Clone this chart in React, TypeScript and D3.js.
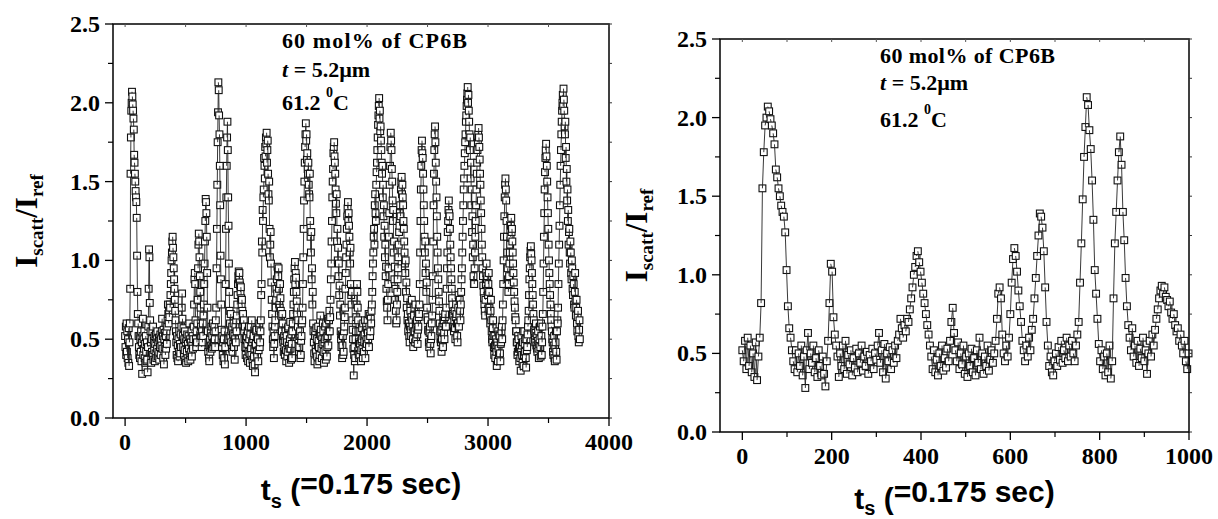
import React from 'react';
import * as d3 from 'd3';

// ---------- DATA ----------
// I_scatt/I_ref. First window: t_s = 0..999, every 3rd frame.
const ZOOM_START = 0;
const ZOOM_STEP = 3;
const zoomWindow: number[] = [
  // 0–39
  0.52, 0.45, 0.58, 0.40, 0.60, 0.42, 0.55, 0.38, 0.50, 0.35, 0.57, 0.33, 0.48, 0.60,
  // 42–111
  0.82, 1.55, 1.78, 1.95, 2.00, 2.07, 2.04, 1.99, 1.95, 1.90, 1.83, 1.67, 1.62, 1.55, 1.50, 1.44, 1.40, 1.37, 1.27, 1.03, 0.80, 0.66, 0.60, 0.52,
  // 114–183
  0.45, 0.40, 0.52, 0.38, 0.50, 0.42, 0.55, 0.36, 0.48, 0.28, 0.52, 0.63, 0.40, 0.50, 0.44, 0.55, 0.38, 0.47, 0.35, 0.52, 0.42, 0.36, 0.48, 0.37,
  // 186–213
  0.29, 0.45, 0.58, 0.82, 1.07, 1.02, 0.73, 0.62, 0.55, 0.48,
  // 216–348
  0.35, 0.50, 0.42, 0.55, 0.40, 0.58, 0.37, 0.49, 0.43, 0.52,
  0.36, 0.47, 0.41, 0.53, 0.38, 0.50, 0.44, 0.55, 0.39, 0.48,
  0.42, 0.51, 0.37, 0.49, 0.45, 0.53, 0.40, 0.50, 0.46, 0.55,
  0.63, 0.44, 0.52, 0.38, 0.56, 0.34, 0.50, 0.45, 0.54, 0.40,
  0.52, 0.44, 0.55, 0.47, 0.58,
  // 351–420
  0.62, 0.72, 0.66, 0.60, 0.68, 0.64, 0.72, 0.70, 0.78, 0.85, 0.92, 1.00, 1.05, 1.12, 1.15, 1.08, 1.02, 0.95, 0.88, 0.82, 0.75, 0.68, 0.62, 0.55,
  // 423–564
  0.48, 0.40, 0.52, 0.38, 0.46, 0.36, 0.50, 0.42, 0.55, 0.39,
  0.47, 0.41, 0.53, 0.45, 0.58, 0.70, 0.79, 0.63, 0.52, 0.45,
  0.57, 0.40, 0.50, 0.43, 0.55, 0.37, 0.48, 0.35, 0.50, 0.42,
  0.53, 0.38, 0.47, 0.36, 0.52, 0.44, 0.60, 0.40, 0.50, 0.37,
  0.48, 0.42, 0.55, 0.39, 0.46, 0.52, 0.44, 0.50,
  // 567–597
  0.58, 0.72, 0.88, 0.92, 0.85, 0.62, 0.50, 0.45, 0.55, 0.48, 0.60,
  // 600–648
  0.75, 0.95, 1.10, 1.17, 1.12, 1.02, 0.90, 0.80, 0.70, 0.58, 0.52, 0.45, 0.55, 0.48, 0.60, 0.52, 0.65,
  // 651–699
  0.72, 0.85, 0.98, 1.12, 1.25, 1.39, 1.37, 1.30, 1.15, 0.92, 0.70, 0.55, 0.42, 0.48, 0.38, 0.36, 0.45,
  // 702–750
  0.50, 0.42, 0.54, 0.46, 0.58, 0.44, 0.52, 0.47, 0.60, 0.45, 0.55, 0.48, 0.58, 0.50, 0.45, 0.55, 0.62,
  // 753–798
  0.70, 0.95, 1.20, 1.48, 1.75, 1.94, 2.13, 2.08, 1.92, 1.80, 1.60, 1.35, 1.03, 0.88, 0.72, 0.56,
  // 801–828
  0.45, 0.52, 0.40, 0.48, 0.36, 0.50, 0.38, 0.55, 0.34, 0.45,
  // 831–864
  0.85, 1.20, 1.40, 1.60, 1.78, 1.88, 1.70, 1.40, 1.22, 0.98, 0.80, 0.68,
  // 867–921
  0.60, 0.52, 0.66, 0.48, 0.55, 0.44, 0.58, 0.42, 0.53, 0.47, 0.60, 0.45, 0.52, 0.37, 0.50, 0.58, 0.48, 0.62, 0.55,
  // 924–999
  0.65, 0.72, 0.78, 0.85, 0.90, 0.93, 0.88, 0.92, 0.86, 0.84, 0.80, 0.83, 0.76, 0.72, 0.75, 0.68, 0.64, 0.66, 0.58, 0.62, 0.55, 0.50, 0.58, 0.45, 0.40, 0.50,
];

// Rest of the run: t_s = 1002..3759, every 3rd frame.
const LATER_START = 1002;
const LATER_STEP = 3;
const laterRun: number[] = [
  // 1002–1119
  0.45, 0.52, 0.38, 0.47, 0.55, 0.36, 0.42, 0.58, 0.50, 0.41, 0.35, 0.53, 0.58, 0.44, 0.40, 0.62, 0.48, 0.37, 0.33, 0.50,
  0.52, 0.39, 0.44, 0.34, 0.29, 0.46, 0.47, 0.55, 0.56, 0.42, 0.39, 0.51, 0.50, 0.36, 0.43, 0.57, 0.60, 0.45, 0.48, 0.55,
  // 1122–1221
  0.62, 0.78, 0.85, 1.12, 1.05, 1.32, 1.25, 1.40, 1.45, 1.65, 1.60, 1.52, 1.72, 1.66, 1.78, 1.74, 1.81, 1.62,
  1.70, 1.76, 1.55, 1.42, 1.38, 1.50, 1.20, 1.02, 1.10, 1.18, 0.98, 0.86, 0.75, 0.66, 0.58, 0.50,
  // 1224–1239
  0.45, 0.55, 0.38, 0.47, 0.52, 0.58,
  // 1242–1317
  0.62, 0.70, 0.75, 0.82, 0.88, 0.79, 0.96, 0.93, 0.90, 0.95, 0.82, 0.72, 0.70, 0.85, 0.76, 0.68, 0.65, 0.58, 0.55, 0.66,
  0.60, 0.50, 0.48, 0.42, 0.52, 0.45,
  // 1320–1389
  0.40, 0.49, 0.55, 0.43, 0.36, 0.52, 0.48, 0.39, 0.42, 0.57, 0.58, 0.46, 0.35, 0.44, 0.50, 0.61, 0.44, 0.37, 0.53, 0.47,
  0.38, 0.55, 0.60, 0.66,
  // 1392–1443
  0.72, 0.80, 0.88, 0.95, 0.99, 0.85, 0.92, 0.89, 0.80, 0.74, 0.66, 0.70, 0.58, 0.62, 0.50, 0.42, 0.45, 0.52,
  // 1446–1467
  0.55, 0.38, 0.40, 0.49, 0.52, 0.60, 0.62, 0.70,
  // 1470–1557
  0.85, 1.02, 1.20, 1.38, 1.50, 1.62, 1.72, 1.80, 1.87, 1.76, 1.80, 1.64, 1.68, 1.58, 1.55, 1.62, 1.48, 1.42, 1.40, 1.55,
  1.25, 1.15, 1.05, 1.18, 0.88, 0.95, 0.72, 0.80, 0.60, 0.55,
  // 1560–1695
  0.48, 0.41, 0.36, 0.52, 0.55, 0.44, 0.42, 0.57, 0.50, 0.39, 0.34, 0.46, 0.58, 0.49, 0.45, 0.36, 0.40, 0.53, 0.65, 0.56,
  0.52, 0.44, 0.38, 0.50, 0.47, 0.60, 0.55, 0.42, 0.35, 0.48, 0.50, 0.58, 0.43, 0.37, 0.60, 0.51, 0.39, 0.45, 0.52, 0.63,
  0.46, 0.55, 0.62, 0.68, 0.55, 0.64,
  // 1698–1785
  0.75, 0.88, 0.98, 1.12, 1.25, 1.40, 1.50, 1.58, 1.68, 1.72, 1.75, 1.66, 1.62, 1.55, 1.45, 1.36, 1.30, 1.42, 1.12, 1.20,
  1.00, 1.08, 0.90, 0.98, 0.78, 0.84, 0.65, 0.72, 0.55, 0.50,
  // 1788–1815
  0.45, 0.53, 0.38, 0.46, 0.52, 0.40, 0.42, 0.55, 0.58, 0.64,
  // 1818–1887
  0.70, 0.82, 0.92, 1.02, 1.10, 1.20, 1.28, 1.33, 1.37, 1.25, 1.30, 1.22, 1.15, 1.05, 0.98, 1.08, 0.85, 0.78, 0.72, 0.80,
  0.62, 0.56, 0.50, 0.44,
  // 1890–2037
  0.27, 0.40, 0.45, 0.36, 0.38, 0.50, 0.55, 0.64, 0.72, 0.85, 0.80, 0.70, 0.62, 0.55, 0.48, 0.38, 0.40, 0.47, 0.55, 0.43,
  0.36, 0.49, 0.50, 0.57, 0.44, 0.38, 0.60, 0.52, 0.42, 0.48, 0.53, 0.62, 0.38, 0.45, 0.58, 0.50, 0.47, 0.56, 0.62, 0.54,
  0.50, 0.66, 0.45, 0.58, 0.65, 0.52, 0.55, 0.63, 0.60, 0.68,
  // 2040–2175
  0.72, 0.80, 0.90, 0.98, 1.05, 1.15, 1.20, 1.10, 1.35, 1.42, 1.30, 1.25, 1.48, 1.56, 1.62, 1.70, 1.78, 1.86, 1.92, 1.98,
  2.03, 1.90, 1.95, 1.82, 1.85, 1.76, 1.70, 1.62, 1.55, 1.60, 1.40, 1.48, 1.28, 1.35, 1.15, 1.22, 1.02, 1.10, 0.90, 0.96,
  0.82, 0.74, 0.70, 0.62, 0.75, 0.85,
  // 2178–2241
  0.95, 1.15, 1.30, 1.48, 1.60, 1.72, 1.81, 1.76, 1.70, 1.58, 1.50, 1.38, 1.25, 1.32, 1.05, 1.12, 0.88, 0.96, 0.75, 0.82,
  0.68, 0.60,
  // 2244–2343
  0.62, 0.72, 0.80, 0.88, 0.95, 1.02, 1.10, 1.18, 1.22, 1.30, 1.35, 1.28, 1.45, 1.50, 1.53, 1.42, 1.48, 1.40, 1.35, 1.25,
  1.20, 1.12, 1.05, 0.98, 0.92, 1.00, 0.80, 0.86, 0.70, 0.76, 0.62, 0.66, 0.55, 0.60,
  // 2346–2433
  0.60, 0.52, 0.48, 0.58, 0.68, 0.56, 0.52, 0.64, 0.75, 0.62, 0.58, 0.50, 0.45, 0.55, 0.65, 0.70, 0.55, 0.48, 0.72, 0.60,
  0.50, 0.57, 0.62, 0.53, 0.47, 0.56, 0.58, 0.64, 0.66, 0.72,
  // 2436–2511
  0.85, 1.05, 1.25, 1.45, 1.60, 1.70, 1.76, 1.68, 1.65, 1.55, 1.45, 1.35, 1.25, 1.15, 1.05, 1.12, 0.92, 0.98, 0.80, 0.86,
  0.70, 0.64, 0.62, 0.56, 0.55, 0.48,
  // 2514–2541
  0.45, 0.54, 0.58, 0.47, 0.41, 0.50, 0.52, 0.60, 0.65, 0.75,
  // 2544–2607
  0.90, 1.12, 1.35, 1.55, 1.70, 1.80, 1.85, 1.75, 1.62, 1.50, 1.40, 1.28, 1.15, 1.05, 0.95, 0.88, 0.80, 0.74, 0.68, 0.60,
  0.55, 0.50,
  // 2610–2655
  0.48, 0.56, 0.42, 0.50, 0.58, 0.46, 0.45, 0.60, 0.62, 0.54, 0.50, 0.64, 0.66, 0.58, 0.58, 0.70,
  // 2658–2715
  0.82, 0.95, 1.05, 1.18, 1.25, 1.32, 1.38, 1.30, 1.28, 1.20, 1.10, 1.02, 0.95, 0.88, 0.82, 0.76, 0.72, 0.66, 0.65, 0.58,
  // 2718–2781
  0.55, 0.62, 0.68, 0.57, 0.50, 0.64, 0.72, 0.66, 0.60, 0.52, 0.48, 0.60, 0.70, 0.78, 0.58, 0.65, 0.75, 0.68, 0.62, 0.72,
  0.80, 0.88,
  // 2784–2883
  0.95, 1.05, 1.15, 1.25, 1.35, 1.45, 1.52, 1.60, 1.68, 1.75, 1.80, 1.88, 1.92, 1.98, 2.02, 2.06, 2.10, 2.00, 2.05, 1.95,
  1.88, 1.80, 1.70, 1.78, 1.52, 1.62, 1.35, 1.45, 1.18, 1.28, 1.02, 1.10, 0.90, 0.85,
  // 2886–2973
  0.85, 0.95, 1.05, 1.15, 1.25, 1.35, 1.45, 1.55, 1.62, 1.70, 1.75, 1.80, 1.84, 1.78, 1.72, 1.64, 1.55, 1.48, 1.38, 1.30,
  1.20, 1.10, 1.02, 0.95, 0.90, 0.84, 0.80, 0.76, 0.72, 0.68,
  // 2976–3057
  0.65, 0.75, 0.85, 0.92, 0.98, 0.88, 0.90, 0.82, 0.78, 0.85, 0.92, 0.80, 0.70, 0.65, 0.60, 0.68, 0.75, 0.62, 0.55, 0.50,
  0.48, 0.57, 0.62, 0.52, 0.45, 0.40, 0.52, 0.46,
  // 3060–3123
  0.38, 0.45, 0.50, 0.42, 0.33, 0.48, 0.46, 0.36, 0.55, 0.44, 0.40, 0.53, 0.52, 0.41, 0.36, 0.47, 0.48, 0.55, 0.58, 0.50,
  0.62, 0.72,
  // 3126–3183
  0.85, 1.00, 1.15, 1.28, 1.40, 1.48, 1.52, 1.45, 1.38, 1.25, 1.15, 1.05, 0.95, 0.88, 0.80, 0.85, 0.90, 0.98, 1.05, 1.10,
  // 3186–3255
  1.15, 1.22, 1.27, 1.18, 1.20, 1.12, 1.05, 0.98, 0.92, 0.86, 0.80, 0.74, 0.70, 0.64, 0.62, 0.55, 0.55, 0.48, 0.48, 0.40,
  0.42, 0.52, 0.50, 0.44,
  // 3258–3333
  0.36, 0.44, 0.45, 0.38, 0.30, 0.42, 0.52, 0.46, 0.40, 0.35, 0.48, 0.55, 0.33, 0.40, 0.55, 0.47, 0.42, 0.50, 0.38, 0.32,
  0.50, 0.43, 0.45, 0.53, 0.58, 0.62,
  // 3336–3405
  0.68, 0.78, 0.88, 0.95, 1.02, 1.06, 1.09, 1.04, 1.00, 0.92, 0.85, 0.78, 0.72, 0.66, 0.62, 0.56, 0.55, 0.50, 0.48, 0.54,
  0.60, 0.46, 0.52, 0.44,
  // 3408–3453
  0.42, 0.49, 0.55, 0.44, 0.38, 0.47, 0.50, 0.58, 0.45, 0.39, 0.60, 0.52, 0.40, 0.48, 0.58, 0.66,
  // 3456–3537
  0.80, 0.98, 1.15, 1.30, 1.45, 1.56, 1.65, 1.70, 1.74, 1.66, 1.60, 1.50, 1.40, 1.30, 1.20, 1.10, 1.00, 0.92, 0.85, 0.78,
  0.72, 0.66, 0.62, 0.58, 0.55, 0.50, 0.48, 0.42,
  // 3540–3579
  0.40, 0.46, 0.52, 0.38, 0.36, 0.44, 0.48, 0.55, 0.42, 0.37, 0.55, 0.62, 0.60, 0.70,
  // 3582–3663
  0.85, 0.98, 1.10, 1.22, 1.35, 1.48, 1.60, 1.70, 1.80, 1.88, 1.95, 2.00, 2.05, 1.98, 2.09, 2.02, 1.95, 1.85, 1.80, 1.88,
  1.65, 1.72, 1.50, 1.58, 1.38, 1.45, 1.25, 1.32,
  // 3666–3759
  1.10, 1.18, 1.20, 1.05, 0.98, 1.12, 1.05, 0.92, 0.88, 1.00, 0.95, 0.82, 0.78, 0.90, 0.85, 0.72, 0.70, 0.80, 0.92, 0.75,
  0.65, 0.70, 0.75, 0.60, 0.55, 0.64, 0.68, 0.52, 0.48, 0.56, 0.62, 0.50,
];

const yTicks = [0, 0.5, 1.0, 1.5, 2.0, 2.5];
const yMinor = [0.25, 0.75, 1.25, 1.75, 2.25];
const fullXTicks = [0, 1000, 2000, 3000, 4000];
const fullXMinor = [500, 1500, 2500, 3500];
const zoomXTicks = [0, 200, 400, 600, 800, 1000];
const zoomXMinor = [100, 300, 500, 700, 900];
const noteLine1 = '60 mol% of CP6B';
const noteLine2Italic = 't';
const noteLine2Rest = ' = 5.2\u00B5m';
const noteLine3 = '61.2 ';
const noteLine3Sup = '0';
const noteLine3End = 'C';

type Pt = { x: number; y: number };
const toPoints = (vals: number[], start: number, step: number): Pt[] =>
  vals.map((v, i) => ({ x: start + i * step, y: v }));

const zoomPoints = toPoints(zoomWindow, ZOOM_START, ZOOM_STEP);
const fullPoints = zoomPoints.concat(toPoints(laterRun, LATER_START, LATER_STEP));

// ---------- LAYOUT ----------
type Layout = {
  left: number; right: number; top: number; bottom: number;
  xMin: number; xMax: number;
  yTitleX: number; xTitleBase: number; xTitleDrop: number; xSubDrop: number;
  noteX: number; noteY: number[]; note1Len: number;
};

const serif = "'Liberation Serif', 'Times New Roman', serif";
const sans = "'Liberation Sans', Arial, sans-serif";

function Panel({ L, points, xTicks, xMinor }: { L: Layout; points: Pt[]; xTicks: number[]; xMinor: number[] }) {
  const x = d3.scaleLinear().domain([L.xMin, L.xMax]).range([L.left, L.right]);
  const y = d3.scaleLinear().domain([0, 2.5]).range([L.bottom, L.top]);
  const S = 6.8;
  const marks: React.ReactNode[] = [];
  points.forEach((p, i) => {
    if (i > 0) {
      const q = points[i - 1];
      marks.push(
        <line key={'l' + i} x1={x(q.x)} y1={y(q.y)} x2={x(p.x)} y2={y(p.y)} stroke="#222" strokeWidth={0.9} />
      );
    }
    marks.push(
      <rect key={'r' + i} x={x(p.x) - S / 2} y={y(p.y) - S / 2} width={S} height={S}
        fill="#fff" stroke="#111" strokeWidth={1.1} />
    );
  });
  const cx = (L.left + L.right) / 2;
  const cy = (L.top + L.bottom) / 2;
  return (
    <g>
      {marks}
      <rect x={L.left} y={L.top} width={L.right - L.left} height={L.bottom - L.top}
        fill="none" stroke="#000" strokeWidth={1.5} />
      {xTicks.map(t => (
        <line key={'xt' + t} x1={x(t)} x2={x(t)} y1={L.bottom} y2={L.bottom + 8} stroke="#000" strokeWidth={1.3} />
      ))}
      {xMinor.map(t => (
        <line key={'xm' + t} x1={x(t)} x2={x(t)} y1={L.bottom} y2={L.bottom + 5} stroke="#000" strokeWidth={1.2} />
      ))}
      {xTicks.concat(xMinor).map(t => (
        <line key={'xtt' + t} x1={x(t)} x2={x(t)} y1={L.top} y2={L.top + 3} stroke="#555" strokeWidth={1} />
      ))}
      {yTicks.map(t => (
        <line key={'yt' + t} x1={L.left - 8} x2={L.left} y1={y(t)} y2={y(t)} stroke="#000" strokeWidth={1.3} />
      ))}
      {yMinor.map(t => (
        <line key={'ym' + t} x1={L.left - 5} x2={L.left} y1={y(t)} y2={y(t)} stroke="#000" strokeWidth={1.2} />
      ))}
      {yTicks.concat(yMinor).map(t => (
        <line key={'ytr' + t} x1={L.right} x2={L.right + 3} y1={y(t)} y2={y(t)} stroke="#333" strokeWidth={1} />
      ))}
      {xTicks.map(t => (
        <text key={'xl' + t} x={x(t)} y={L.bottom + 31.5} textAnchor="middle"
          fontFamily={serif} fontWeight="bold" fontSize={24}>{String(t)}</text>
      ))}
      {yTicks.map(t => (
        <text key={'yl' + t} x={L.left - 13} y={y(t) + 8} textAnchor="end"
          fontFamily={serif} fontWeight="bold" fontSize={24}>{t.toFixed(1)}</text>
      ))}
      <text transform={`translate(${L.yTitleX},${cy}) rotate(-90)`} textAnchor="middle"
        fontFamily={serif} fontWeight="bold" fontSize={31}>
        I<tspan fontSize={19} dy={6}>scatt</tspan><tspan dy={-6}>/I</tspan><tspan fontSize={19} dy={6}>ref</tspan>
      </text>
      <text x={cx} y={L.xTitleBase} textAnchor="middle" fontFamily={sans} fontWeight="bold" fontSize={30}
        style={{ whiteSpace: 'pre' }}>
        <tspan dy={L.xTitleDrop}>t</tspan><tspan fontSize={20} dy={L.xSubDrop}>s</tspan><tspan dy={-L.xSubDrop}>{' ('}</tspan><tspan dy={-L.xTitleDrop}>=0.175 sec)</tspan>
      </text>
      <text x={L.noteX} y={L.noteY[0]} fontFamily={serif} fontWeight="bold" fontSize={22}
        textLength={L.note1Len} lengthAdjust="spacing" style={{ whiteSpace: 'pre' }}>{noteLine1}</text>
      <text x={L.noteX} y={L.noteY[1]} fontFamily={serif} fontWeight="bold" fontSize={22} style={{ whiteSpace: 'pre' }}>
        <tspan fontStyle="italic">{noteLine2Italic}</tspan>{noteLine2Rest}
      </text>
      <text x={L.noteX} y={L.noteY[2]} fontFamily={serif} fontWeight="bold" fontSize={22} style={{ whiteSpace: 'pre' }}>
        {noteLine3}<tspan fontSize={14} dy={-13}>{noteLine3Sup}</tspan><tspan dy={13}>{noteLine3End}</tspan>
      </text>
    </g>
  );
}

const fullLayout: Layout = {
  left: 113, right: 609, top: 24, bottom: 418, xMin: -100, xMax: 4000,
  yTitleX: 37, xTitleBase: 494, xTitleDrop: 6, xSubDrop: 8,
  noteX: 282, noteY: [48, 77, 110], note1Len: 185,
};
const zoomLayout: Layout = {
  left: 720, right: 1189, top: 39, bottom: 432, xMin: -50, xMax: 1000,
  yTitleX: 647, xTitleBase: 502, xTitleDrop: 7, xSubDrop: 6,
  noteX: 880, noteY: [63, 90, 127], note1Len: 175,
};

export default function App() {
  return (
    <svg width={1218} height={519} style={{ position: 'absolute', left: 0, top: 0, background: '#fff' }}>
      <rect x={0} y={0} width={1218} height={519} fill="#fff" />
      <Panel L={fullLayout} points={fullPoints} xTicks={fullXTicks} xMinor={fullXMinor} />
      <Panel L={zoomLayout} points={zoomPoints} xTicks={zoomXTicks} xMinor={zoomXMinor} />
    </svg>
  );
}
